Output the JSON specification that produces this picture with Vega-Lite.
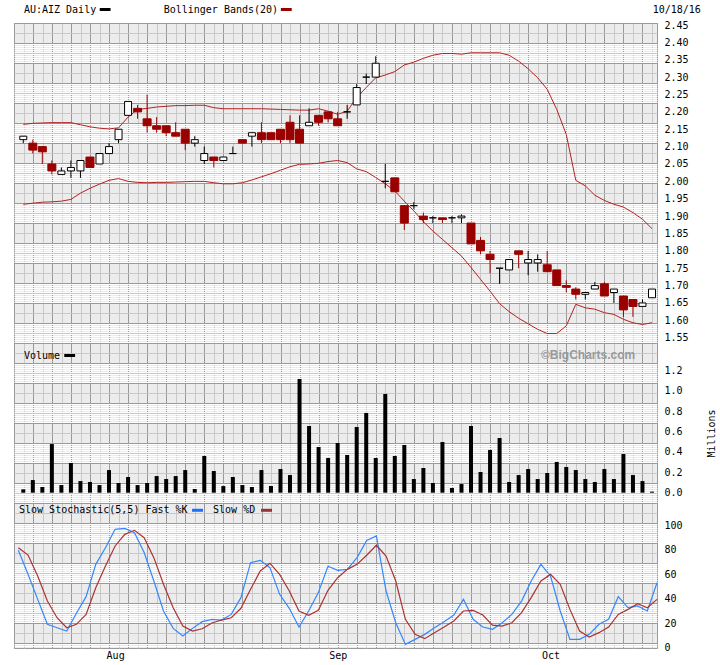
{
"$schema": "https://vega.github.io/schema/vega-lite/v6.json",
"background": "white",
"padding": {"left": 10, "top": 4, "right": 0, "bottom": 0},
"spacing": 0,
"bounds": "flush",
"config": {
 "view": {"fill": "#ececec", "stroke": "#999999", "strokeWidth": 1},
 "axis": {"labelFont": "DejaVu Sans Mono", "labelFontSize": 10, "labelColor": "#000000", "titleFont": "DejaVu Sans Mono", "titleFontSize": 10, "titleFontWeight": "normal", "titleColor": "#000000", "labelOverlap": false, "tickCount": 1000}
},
"datasets": {"d": [
{"i":0,"o":2.12,"h":2.13,"l":2.11,"c":2.13,"bu":2.164,"bl":1.934,"v":0.033,"k":79.6,"d":81.7},
{"i":1,"o":2.11,"h":2.12,"l":2.08,"c":2.09,"bu":2.167,"bl":1.937,"v":0.124,"k":60,"d":75.7},
{"i":2,"o":2.10,"h":2.10,"l":2.05,"c":2.085,"bu":2.168,"bl":1.940,"v":0.056,"k":39.5,"d":58.6},
{"i":3,"o":2.05,"h":2.06,"l":2.02,"c":2.03,"bu":2.169,"bl":1.941,"v":0.477,"k":19.1,"d":38.1},
{"i":4,"o":2.02,"h":2.04,"l":2.02,"c":2.03,"bu":2.169,"bl":1.943,"v":0.075,"k":16.3,"d":24.5},
{"i":5,"o":2.03,"h":2.06,"l":2.01,"c":2.04,"bu":2.169,"bl":1.948,"v":0.291,"k":13.6,"d":16.3},
{"i":6,"o":2.03,"h":2.06,"l":2.01,"c":2.06,"bu":2.163,"bl":1.966,"v":0.114,"k":28.1,"d":19.1},
{"i":7,"o":2.07,"h":2.07,"l":2.04,"c":2.04,"bu":2.157,"bl":1.980,"v":0.105,"k":41.7,"d":27.2},
{"i":8,"o":2.05,"h":2.08,"l":2.05,"c":2.08,"bu":2.153,"bl":1.992,"v":0.075,"k":68.1,"d":49},
{"i":9,"o":2.08,"h":2.11,"l":2.08,"c":2.10,"bu":2.151,"bl":2.003,"v":0.222,"k":81.7,"d":66.8},
{"i":10,"o":2.12,"h":2.15,"l":2.11,"c":2.15,"bu":2.154,"bl":2.008,"v":0.095,"k":96.7,"d":83.1},
{"i":11,"o":2.19,"h":2.23,"l":2.19,"c":2.23,"bu":2.185,"bl":2.000,"v":0.154,"k":97.5,"d":92.6},
{"i":12,"o":2.21,"h":2.22,"l":2.18,"c":2.20,"bu":2.207,"bl":1.997,"v":0.075,"k":94,"d":95.9},
{"i":13,"o":2.18,"h":2.25,"l":2.14,"c":2.16,"bu":2.210,"bl":1.996,"v":0.095,"k":77.7,"d":89.9},
{"i":14,"o":2.16,"h":2.185,"l":2.14,"c":2.15,"bu":2.214,"bl":1.997,"v":0.163,"k":54.5,"d":73.6},
{"i":15,"o":2.16,"h":2.16,"l":2.13,"c":2.14,"bu":2.216,"bl":1.997,"v":0.134,"k":30,"d":51.8},
{"i":16,"o":2.14,"h":2.17,"l":2.13,"c":2.13,"bu":2.218,"bl":1.998,"v":0.163,"k":15.8,"d":32.7},
{"i":17,"o":2.15,"h":2.15,"l":2.09,"c":2.11,"bu":2.218,"bl":1.999,"v":0.222,"k":9.5,"d":17.7},
{"i":18,"o":2.11,"h":2.13,"l":2.10,"c":2.12,"bu":2.219,"bl":2.000,"v":0.036,"k":15.8,"d":13.6},
{"i":19,"o":2.06,"h":2.10,"l":2.05,"c":2.08,"bu":2.219,"bl":2.000,"v":0.36,"k":21.3,"d":15.5},
{"i":20,"o":2.07,"h":2.07,"l":2.04,"c":2.06,"bu":2.212,"bl":1.996,"v":0.213,"k":23.2,"d":20.2},
{"i":21,"o":2.06,"h":2.07,"l":2.06,"c":2.07,"bu":2.209,"bl":1.993,"v":0.065,"k":22.6,"d":22.6},
{"i":22,"o":2.08,"h":2.10,"l":2.08,"c":2.08,"bu":2.209,"bl":1.993,"v":0.154,"k":27.2,"d":24.5},
{"i":23,"o":2.12,"h":2.12,"l":2.11,"c":2.11,"bu":2.209,"bl":1.996,"v":0.075,"k":40.9,"d":32.2},
{"i":24,"o":2.13,"h":2.14,"l":2.10,"c":2.14,"bu":2.209,"bl":2.004,"v":0.056,"k":69.5,"d":47.7},
{"i":25,"o":2.14,"h":2.17,"l":2.11,"c":2.12,"bu":2.209,"bl":2.013,"v":0.222,"k":71.4,"d":62.7},
{"i":26,"o":2.14,"h":2.14,"l":2.12,"c":2.12,"bu":2.208,"bl":2.022,"v":0.065,"k":65.4,"d":68.9},
{"i":27,"o":2.15,"h":2.15,"l":2.11,"c":2.12,"bu":2.207,"bl":2.032,"v":0.232,"k":43.6,"d":59.9},
{"i":28,"o":2.17,"h":2.19,"l":2.11,"c":2.12,"bu":2.206,"bl":2.042,"v":0.173,"k":32.2,"d":46.3},
{"i":29,"o":2.15,"h":2.19,"l":2.11,"c":2.11,"bu":2.205,"bl":2.049,"v":1.115,"k":16.9,"d":30},
{"i":30,"o":2.16,"h":2.21,"l":2.16,"c":2.17,"bu":2.205,"bl":2.050,"v":0.654,"k":30,"d":26.4},
{"i":31,"o":2.19,"h":2.19,"l":2.16,"c":2.17,"bu":2.209,"bl":2.052,"v":0.448,"k":45,"d":30.5},
{"i":32,"o":2.20,"h":2.20,"l":2.17,"c":2.18,"bu":2.202,"bl":2.057,"v":0.34,"k":66.5,"d":46.9},
{"i":33,"o":2.18,"h":2.20,"l":2.16,"c":2.16,"bu":2.193,"bl":2.060,"v":0.487,"k":63.2,"d":57.2},
{"i":34,"o":2.20,"h":2.22,"l":2.18,"c":2.20,"bu":2.202,"bl":2.054,"v":0.37,"k":64,"d":64},
{"i":35,"o":2.22,"h":2.28,"l":2.22,"c":2.27,"bu":2.241,"bl":2.036,"v":0.644,"k":73.6,"d":68.1},
{"i":36,"o":2.30,"h":2.31,"l":2.28,"c":2.30,"bu":2.270,"bl":2.028,"v":0.782,"k":87.7,"d":75.5},
{"i":37,"o":2.30,"h":2.36,"l":2.30,"c":2.34,"bu":2.298,"bl":2.011,"v":0.34,"k":91.3,"d":83.7},
{"i":38,"o":2.00,"h":2.05,"l":1.98,"c":2.00,"bu":2.306,"bl":1.993,"v":0.968,"k":46.3,"d":74.9},
{"i":39,"o":2.01,"h":2.01,"l":1.97,"c":1.97,"bu":2.316,"bl":1.972,"v":0.36,"k":20.4,"d":54.5},
{"i":40,"o":1.93,"h":1.93,"l":1.86,"c":1.88,"bu":2.335,"bl":1.943,"v":0.468,"k":2.7,"d":23.2},
{"i":41,"o":1.93,"h":1.94,"l":1.92,"c":1.93,"bu":2.343,"bl":1.915,"v":0.134,"k":6.8,"d":10.9},
{"i":42,"o":1.90,"h":1.91,"l":1.88,"c":1.89,"bu":2.354,"bl":1.884,"v":0.242,"k":10.9,"d":7.4},
{"i":43,"o":1.895,"h":1.90,"l":1.88,"c":1.895,"bu":2.363,"bl":1.857,"v":0.095,"k":16.3,"d":12.3},
{"i":44,"o":1.895,"h":1.895,"l":1.88,"c":1.89,"bu":2.368,"bl":1.833,"v":0.497,"k":21.3,"d":16.9},
{"i":45,"o":1.895,"h":1.90,"l":1.88,"c":1.895,"bu":2.368,"bl":1.809,"v":0.046,"k":26.7,"d":21.8},
{"i":46,"o":1.895,"h":1.905,"l":1.88,"c":1.90,"bu":2.366,"bl":1.785,"v":0.085,"k":39.5,"d":30},
{"i":47,"o":1.88,"h":1.88,"l":1.82,"c":1.82,"bu":2.370,"bl":1.752,"v":0.654,"k":23.2,"d":30.5},
{"i":48,"o":1.83,"h":1.84,"l":1.79,"c":1.80,"bu":2.370,"bl":1.718,"v":0.203,"k":16.9,"d":26.7},
{"i":49,"o":1.79,"h":1.80,"l":1.735,"c":1.775,"bu":2.370,"bl":1.684,"v":0.419,"k":15,"d":18.5},
{"i":50,"o":1.75,"h":1.75,"l":1.705,"c":1.75,"bu":2.370,"bl":1.648,"v":0.536,"k":20.4,"d":17.7},
{"i":51,"o":1.745,"h":1.775,"l":1.745,"c":1.775,"bu":2.363,"bl":1.625,"v":0.105,"k":27.2,"d":20.4},
{"i":52,"o":1.80,"h":1.80,"l":1.75,"c":1.79,"bu":2.346,"bl":1.606,"v":0.173,"k":38.1,"d":28.6},
{"i":53,"o":1.765,"h":1.80,"l":1.73,"c":1.775,"bu":2.324,"bl":1.590,"v":0.232,"k":54.5,"d":40.9},
{"i":54,"o":1.765,"h":1.79,"l":1.74,"c":1.775,"bu":2.298,"bl":1.574,"v":0.134,"k":68.1,"d":54.5},
{"i":55,"o":1.76,"h":1.80,"l":1.74,"c":1.74,"bu":2.265,"bl":1.562,"v":0.193,"k":58.6,"d":59.9},
{"i":56,"o":1.745,"h":1.745,"l":1.70,"c":1.70,"bu":2.207,"bl":1.562,"v":0.301,"k":30,"d":51.8},
{"i":57,"o":1.70,"h":1.715,"l":1.68,"c":1.695,"bu":2.135,"bl":1.584,"v":0.252,"k":6.8,"d":31.3},
{"i":58,"o":1.69,"h":1.695,"l":1.66,"c":1.675,"bu":2.003,"bl":1.646,"v":0.222,"k":6.8,"d":13.6},
{"i":59,"o":1.675,"h":1.68,"l":1.66,"c":1.68,"bu":1.987,"bl":1.636,"v":0.134,"k":10.9,"d":8.7},
{"i":60,"o":1.69,"h":1.71,"l":1.69,"c":1.70,"bu":1.960,"bl":1.632,"v":0.105,"k":19.1,"d":12.3},
{"i":61,"o":1.705,"h":1.71,"l":1.67,"c":1.67,"bu":1.945,"bl":1.622,"v":0.232,"k":23.2,"d":16.9},
{"i":62,"o":1.68,"h":1.69,"l":1.65,"c":1.69,"bu":1.934,"bl":1.617,"v":0.134,"k":41.7,"d":27.2},
{"i":63,"o":1.67,"h":1.67,"l":1.61,"c":1.63,"bu":1.926,"bl":1.603,"v":0.379,"k":32.7,"d":31.3},
{"i":64,"o":1.66,"h":1.66,"l":1.61,"c":1.64,"bu":1.910,"bl":1.593,"v":0.173,"k":34.1,"d":36},
{"i":65,"o":1.64,"h":1.66,"l":1.64,"c":1.65,"bu":1.891,"bl":1.588,"v":0.114,"k":30,"d":32.7},
{"i":66,"o":1.665,"h":1.69,"l":1.665,"c":1.69,"bu":1.864,"bl":1.593,"v":0.01,"k":53.1,"d":39.5}
]},
"vconcat": [
{
 "width": 643, "height": 320,
 "resolve": {"scale": {"x": "independent", "y": "independent"}},
 "layer": [
  {"data": {"values": [{"g": 1}]}, "mark": {"type": "point", "opacity": 0},
   "encoding": {
    "x": {"datum": 0, "type": "quantitative", "scale": {"domain": [0, 643], "nice": false, "zero": false}, "axis": null},
    "y": {"datum": 0, "type": "quantitative", "scale": {"domain": [0, 320], "reverse": true, "nice": false, "zero": false},
          "axis": {"orient": "left", "grid": true, "gridColor": "#ffffff", "gridWidth": 1, "tickCount": 1000, "values": [21,23,25,27,29,31,33,35,37,39,61,63,65,67,69,71,73,75,77,79,101,103,105,107,109,111,113,115,117,119,141,143,145,147,149,151,153,155,157,159,181,183,185,187,189,191,193,195,197,199,221,223,225,227,229,231,233,235,237,239,261,263,265,267,269,271,273,275,277,279,301,303,305,307,309,311,313,315,317,319], "labels": false, "ticks": false, "domain": false, "title": null}}}},
  {"data": {"values": [{"g": 1}]}, "mark": {"type": "point", "opacity": 0},
   "encoding": {
    "x": {"datum": 0, "type": "quantitative", "scale": {"domain": [0, 643], "nice": false, "zero": false},
          "axis": {"orient": "bottom", "grid": true, "gridColor": "#c8c8c8", "tickCount": 1000, "values": [10,29,48,67,86,105,124,143,162,181,200,219,238,257,276,295,314,333,352,371,390,409,428,447,466,486,505,524,543,562,581,600,619,638], "labels": false, "ticks": false, "domain": false, "title": null}},
    "y": {"datum": 0, "type": "quantitative", "scale": {"domain": [0, 320], "reverse": true, "nice": false, "zero": false},
          "axis": {"orient": "left", "grid": true, "gridColor": "#c8c8c8", "tickCount": 1000, "values": [10,30,50,70,90,110,130,150,170,190,210,230,250,270,290,310], "labels": false, "ticks": false, "domain": false, "title": null}}}},
  {"data": {"values": [{"g": 1}]}, "mark": {"type": "point", "opacity": 0},
   "encoding": {
    "x": {"datum": 0, "type": "quantitative", "scale": {"domain": [0, 643], "nice": false, "zero": false},
          "axis": {"orient": "bottom", "grid": true, "gridColor": "#999999", "tickCount": 1000, "values": [0,19,38,57,76,95,114,133,152,171,190,209,228,248,267,286,305,324,343,362,381,400,419,438,457,476,495,514,533,552,571,590,609,628], "labels": false, "ticks": false, "domain": false, "title": null}},
    "y": {"datum": 0, "type": "quantitative", "scale": {"domain": [0, 320], "reverse": true, "nice": false, "zero": false},
          "axis": {"orient": "left", "grid": true, "gridColor": "#999999", "tickCount": 1000, "values": [0,20,40,60,80,100,120,140,160,180,200,220,240,260,280,300,320], "labels": false, "ticks": false, "domain": false, "title": null}}}},
  {"data": {"name": "d"},
   "layer": [
    {"mark": {"type": "line", "color": "#b22222", "strokeWidth": 1},
     "encoding": {"x": {"field": "i", "type": "quantitative", "scale": {"domain": [-0.45, 66], "nice": false, "zero": false}, "axis": null},
      "y": {"field": "bu", "type": "quantitative", "scale": {"domain": [1.53474, 2.45576], "nice": false, "zero": false},
       "axis": {"orient": "right", "tickCount": 1000, "values": [1.55,1.6,1.65,1.7,1.75,1.8,1.85,1.9,1.95,2,2.05,2.1,2.15,2.2,2.25,2.3,2.35,2.4,2.45], "format": ".2f", "grid": false, "ticks": false, "domain": false, "labelPadding": 7, "labelOverlap": false, "labelBound": false, "title": null}}}},
    {"mark": {"type": "line", "color": "#b22222", "strokeWidth": 1},
     "encoding": {"x": {"field": "i", "type": "quantitative"}, "y": {"field": "bl", "type": "quantitative"}}},
    {"mark": {"type": "rule", "strokeWidth": 1},
     "encoding": {"x": {"field": "i", "type": "quantitative"}, "y": {"field": "l", "type": "quantitative"}, "y2": {"field": "h"},
      "color": {"condition": {"test": "datum.c >= datum.o", "value": "#000000"}, "value": "#990000"}}},
    {"mark": {"type": "bar", "strokeWidth": 1},
     "encoding": {"x": {"field": "i", "type": "quantitative"}, "y": {"field": "o", "type": "quantitative"}, "y2": {"field": "c"},
      "fill": {"condition": {"test": "datum.c >= datum.o", "value": "#ffffff"}, "value": "#990000"},
      "stroke": {"condition": {"test": "datum.c >= datum.o", "value": "#000000"}, "value": "#990000"},
      "size": {"condition": {"test": "datum.c >= datum.o", "value": 7}, "value": 8}}},
    {"data": {"values": [{"t": "AU:AIZ Daily", "p": 0.067}, {"t": "Bollinger Bands(20)", "p": 14.74}, {"t": "10/18/16", "p": 66.07}]},
     "mark": {"type": "text", "align": "left", "baseline": "middle", "font": "DejaVu Sans Mono", "fontSize": 10, "color": "#000000"},
     "encoding": {"x": {"field": "p", "type": "quantitative"}, "y": {"datum": 2.4946, "type": "quantitative"}, "text": {"field": "t"}}},
    {"data": {"values": [{"s": "AU:AIZ Daily", "a": 8.024, "b": 9.161}, {"s": "Bollinger Bands(20)", "a": 27.04, "b": 28.18}]},
     "mark": {"type": "rule", "strokeWidth": 3},
     "encoding": {"x": {"field": "a", "type": "quantitative"}, "x2": {"field": "b"}, "y": {"datum": 2.4946, "type": "quantitative"},
      "color": {"field": "s", "type": "nominal", "scale": {"domain": ["AU:AIZ Daily", "Bollinger Bands(20)", "Fast %K", "Slow %D"], "range": ["#000000", "#990000", "#1a6fff", "#993333"]}, "legend": null}}}
   ]}
 ]
},
{
 "width": 643, "height": 160,
 "resolve": {"scale": {"x": "independent", "y": "independent"}},
 "layer": [
  {"data": {"values": [{"g": 1}]}, "mark": {"type": "point", "opacity": 0},
   "encoding": {
    "x": {"datum": 0, "type": "quantitative", "scale": {"domain": [0, 643], "nice": false, "zero": false}, "axis": null},
    "y": {"datum": 0, "type": "quantitative", "scale": {"domain": [0, 160], "reverse": true, "nice": false, "zero": false},
          "axis": {"orient": "left", "grid": true, "gridColor": "#ffffff", "gridWidth": 1, "tickCount": 1000, "values": [21,23,25,27,29,31,33,35,37,39,61,63,65,67,69,71,73,75,77,79,101,103,105,107,109,111,113,115,117,119,141,143,145,147,149,151,153,155,157,159], "labels": false, "ticks": false, "domain": false, "title": null}}}},
  {"data": {"values": [{"g": 1}]}, "mark": {"type": "point", "opacity": 0},
   "encoding": {
    "x": {"datum": 0, "type": "quantitative", "scale": {"domain": [0, 643], "nice": false, "zero": false},
          "axis": {"orient": "bottom", "grid": true, "gridColor": "#c8c8c8", "tickCount": 1000, "values": [10,29,48,67,86,105,124,143,162,181,200,219,238,257,276,295,314,333,352,371,390,409,428,447,466,486,505,524,543,562,581,600,619,638], "labels": false, "ticks": false, "domain": false, "title": null}},
    "y": {"datum": 0, "type": "quantitative", "scale": {"domain": [0, 160], "reverse": true, "nice": false, "zero": false},
          "axis": {"orient": "left", "grid": true, "gridColor": "#c8c8c8", "tickCount": 1000, "values": [10,30,50,70,90,110,130,150], "labels": false, "ticks": false, "domain": false, "title": null}}}},
  {"data": {"values": [{"g": 1}]}, "mark": {"type": "point", "opacity": 0},
   "encoding": {
    "x": {"datum": 0, "type": "quantitative", "scale": {"domain": [0, 643], "nice": false, "zero": false},
          "axis": {"orient": "bottom", "grid": true, "gridColor": "#999999", "tickCount": 1000, "values": [0,19,38,57,76,95,114,133,152,171,190,209,228,248,267,286,305,324,343,362,381,400,419,438,457,476,495,514,533,552,571,590,609,628], "labels": false, "ticks": false, "domain": false, "title": null}},
    "y": {"datum": 0, "type": "quantitative", "scale": {"domain": [0, 160], "reverse": true, "nice": false, "zero": false},
          "axis": {"orient": "left", "grid": true, "gridColor": "#999999", "tickCount": 1000, "values": [0,20,40,60,80,100,120,140,160], "labels": false, "ticks": false, "domain": false, "title": null}}}},
  {"data": {"name": "d"},
   "layer": [
    {"mark": {"type": "bar", "color": "#000000", "size": 4},
     "encoding": {"x": {"field": "i", "type": "quantitative", "scale": {"domain": [-0.45, 66], "nice": false, "zero": false}, "axis": null},
      "y": {"field": "v", "type": "quantitative", "scale": {"domain": [-0.101, 1.4676], "nice": false, "zero": false},
       "axis": {"orient": "right", "tickCount": 1000, "values": [0,0.2,0.4,0.6,0.8,1.0,1.2], "format": ".1f", "grid": false, "ticks": false, "domain": false, "labelPadding": 7, "labelOverlap": false, "labelBound": false, "title": "Millions", "titleAngle": 270, "titleX": 54, "titleY": 90, "titleAlign": "center", "titleBaseline": "middle"}},
      "y2": {"datum": 0}}},
    {"data": {"values": [{"t": "Volume", "p": 0.067}]},
     "mark": {"type": "text", "align": "left", "baseline": "middle", "font": "DejaVu Sans Mono", "fontSize": 10, "color": "#000000"},
     "encoding": {"x": {"field": "p", "type": "quantitative"}, "y": {"datum": 1.34, "type": "quantitative"}, "text": {"field": "t"}}},
    {"data": {"values": [{"s": "Volume", "a": 4.30, "b": 5.44}]},
     "mark": {"type": "rule", "strokeWidth": 3, "color": "#000000"},
     "encoding": {"x": {"field": "a", "type": "quantitative"}, "x2": {"field": "b"}, "y": {"datum": 1.345, "type": "quantitative"}}},
    {"data": {"values": [{"t": "©BigCharts.com", "p": 64.24}]},
     "mark": {"type": "text", "align": "right", "baseline": "middle", "font": "Liberation Sans", "fontSize": 12, "fontWeight": "bold", "color": "#9a9a9a"},
     "encoding": {"x": {"field": "p", "type": "quantitative"}, "y": {"datum": 1.35, "type": "quantitative"}, "text": {"field": "t"}}}
   ]}
 ]
},
{
 "width": 643, "height": 145,
 "resolve": {"scale": {"x": "independent", "y": "independent"}},
 "layer": [
  {"data": {"values": [{"g": 1}]}, "mark": {"type": "point", "opacity": 0},
   "encoding": {
    "x": {"datum": 0, "type": "quantitative", "scale": {"domain": [0, 643], "nice": false, "zero": false}, "axis": null},
    "y": {"datum": 0, "type": "quantitative", "scale": {"domain": [0, 145], "reverse": true, "nice": false, "zero": false},
          "axis": {"orient": "left", "grid": true, "gridColor": "#ffffff", "gridWidth": 1, "tickCount": 1000, "values": [21,23,25,27,29,31,33,35,37,39,61,63,65,67,69,71,73,75,77,79,101,103,105,107,109,111,113,115,117,119,141,143], "labels": false, "ticks": false, "domain": false, "title": null}}}},
  {"data": {"values": [{"g": 1}]}, "mark": {"type": "point", "opacity": 0},
   "encoding": {
    "x": {"datum": 0, "type": "quantitative", "scale": {"domain": [0, 643], "nice": false, "zero": false},
          "axis": {"orient": "bottom", "grid": true, "gridColor": "#c8c8c8", "tickCount": 1000, "values": [10,29,48,67,86,105,124,143,162,181,200,219,238,257,276,295,314,333,352,371,390,409,428,447,466,486,505,524,543,562,581,600,619,638], "labels": false, "ticks": false, "domain": false, "title": null}},
    "y": {"datum": 0, "type": "quantitative", "scale": {"domain": [0, 145], "reverse": true, "nice": false, "zero": false},
          "axis": {"orient": "left", "grid": true, "gridColor": "#c8c8c8", "tickCount": 1000, "values": [10,30,50,70,90,110,130], "labels": false, "ticks": false, "domain": false, "title": null}}}},
  {"data": {"values": [{"g": 1}]}, "mark": {"type": "point", "opacity": 0},
   "encoding": {
    "x": {"datum": 0, "type": "quantitative", "scale": {"domain": [0, 643], "nice": false, "zero": false},
          "axis": {"orient": "bottom", "grid": true, "gridColor": "#999999", "tickCount": 1000, "values": [0,19,38,57,76,95,114,133,152,171,190,209,228,248,267,286,305,324,343,362,381,400,419,438,457,476,495,514,533,552,571,590,609,628], "labels": false, "ticks": false, "domain": false, "title": null}},
    "y": {"datum": 0, "type": "quantitative", "scale": {"domain": [0, 145], "reverse": true, "nice": false, "zero": false},
          "axis": {"orient": "left", "grid": true, "gridColor": "#999999", "tickCount": 1000, "values": [0,20,40,60,80,100,120,140], "labels": false, "ticks": false, "domain": false, "title": null}}}},
  {"data": {"name": "d"},
   "layer": [
    {"mark": {"type": "line", "color": "#3388ff", "strokeWidth": 1.2},
     "encoding": {"x": {"field": "i", "type": "quantitative", "scale": {"domain": [-0.45, 66], "nice": false, "zero": false},
       "axis": {"orient": "bottom", "tickCount": 1000, "values": [10,33,55], "labelExpr": "datum.value == 10 ? 'Aug' : datum.value == 33 ? 'Sep' : 'Oct'", "grid": false, "ticks": false, "domain": false, "labelPadding": 2, "labelOverlap": false, "title": null}},
      "y": {"field": "k", "type": "quantitative", "scale": {"domain": [-0.24, 118.22], "nice": false, "zero": false},
       "axis": {"orient": "right", "tickCount": 1000, "values": [0,20,40,60,80,100], "format": "d", "grid": false, "ticks": false, "domain": false, "labelPadding": 7, "labelOverlap": false, "labelBound": false, "title": null}}}},
    {"mark": {"type": "line", "color": "#aa3333", "strokeWidth": 1.2},
     "encoding": {"x": {"field": "i", "type": "quantitative"}, "y": {"field": "d", "type": "quantitative"}}},
    {"data": {"values": [{"t": "Slow Stochastic(5,5) Fast %K", "p": 0.067}, {"t": "Slow %D", "p": 20.12}]},
     "mark": {"type": "text", "align": "left", "baseline": "middle", "font": "DejaVu Sans Mono", "fontSize": 10, "color": "#000000"},
     "encoding": {"x": {"field": "p", "type": "quantitative"}, "y": {"datum": 112.26, "type": "quantitative"}, "text": {"field": "t"}}},
    {"data": {"values": [{"s": "Fast %K", "a": 17.95, "b": 19.08}, {"s": "Slow %D", "a": 25.08, "b": 26.21}]},
     "mark": {"type": "rule", "strokeWidth": 3},
     "encoding": {"x": {"field": "a", "type": "quantitative"}, "x2": {"field": "b"}, "y": {"datum": 112.26, "type": "quantitative"},
      "color": {"field": "s", "type": "nominal", "scale": {"domain": ["AU:AIZ Daily", "Bollinger Bands(20)", "Fast %K", "Slow %D"], "range": ["#000000", "#990000", "#1a6fff", "#993333"]}, "legend": null}}}
   ]}
 ]
}
]
}
